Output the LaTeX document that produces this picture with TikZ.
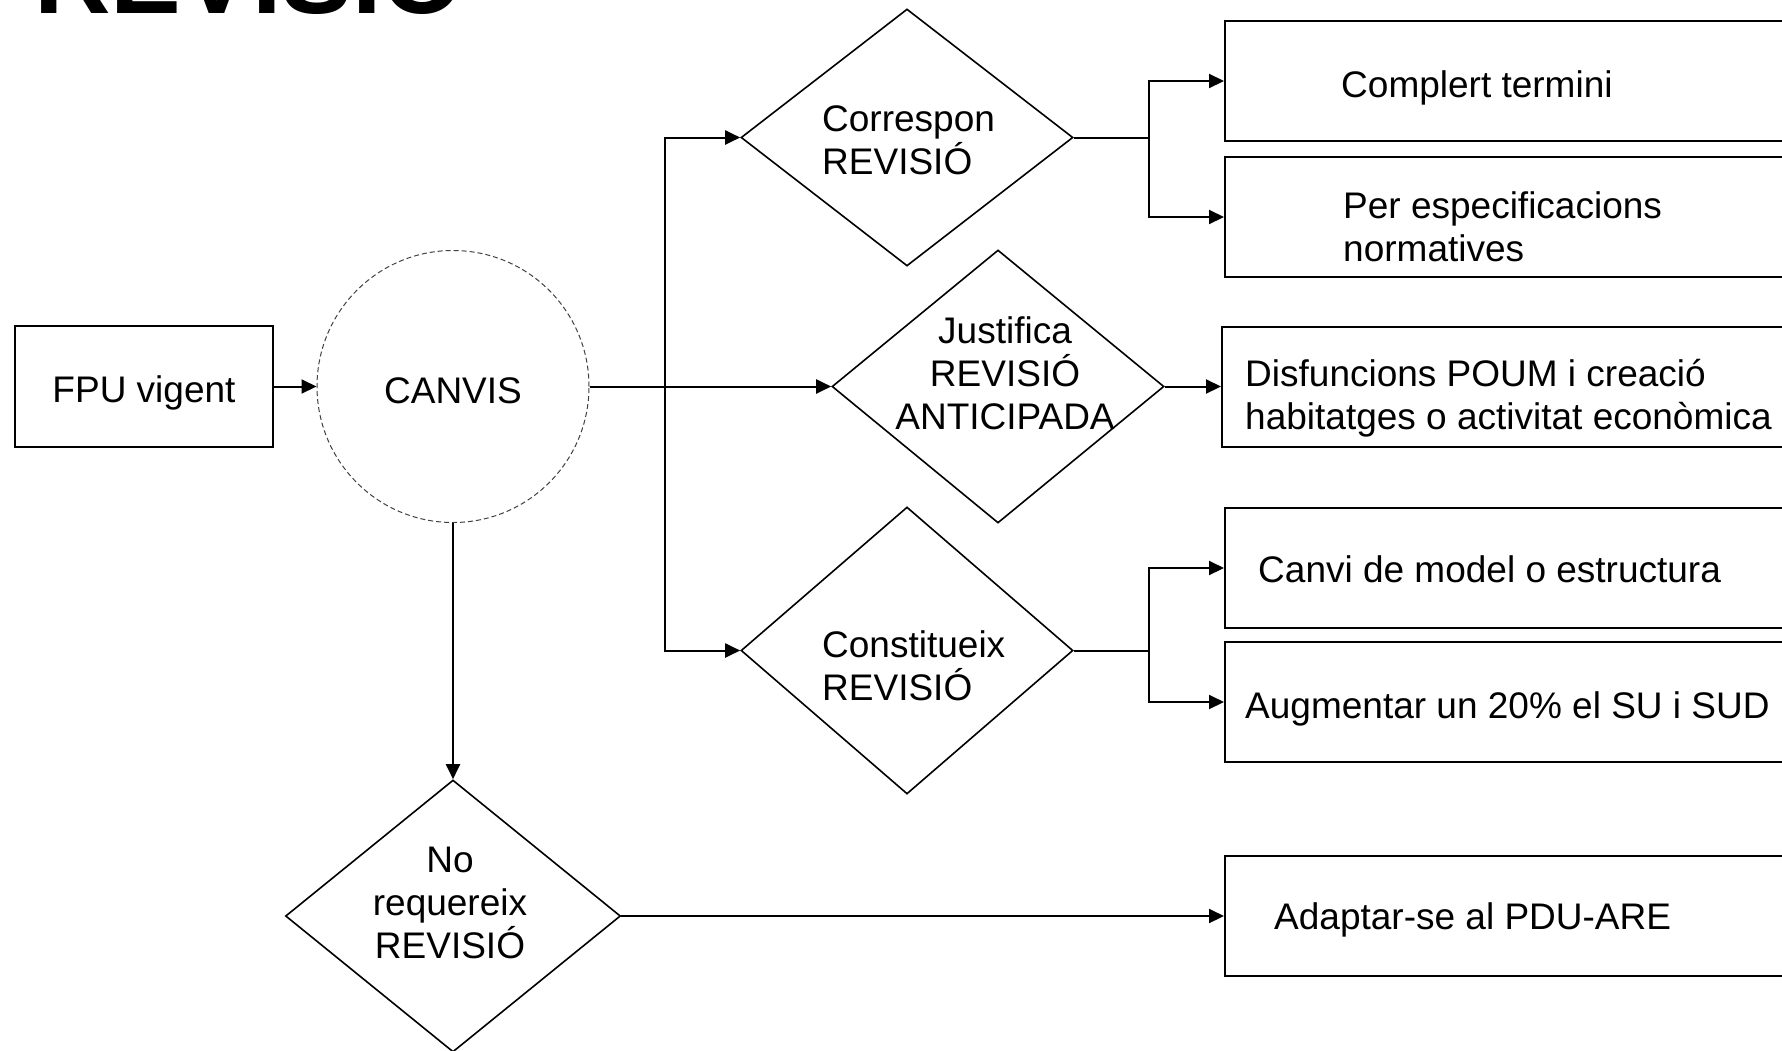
\documentclass[tikz,border=0pt]{standalone}
\usepackage{fontspec}
\setmainfont{Liberation Sans}
\usetikzlibrary{shapes.geometric,arrows.meta}

\begin{document}
\begin{tikzpicture}[x=1pt,y=-1pt,font=\fontsize{37}{43}\selectfont,
  rbox/.style={draw,line width=2pt,rectangle,anchor=west,minimum width=600,minimum height=120,inner sep=0pt},
  dmnd/.style n args={2}{draw,line width=1.6pt,diamond,minimum width=#1,minimum height=#2,inner sep=0pt},
  dlbl/.style={inner sep=0pt},
  blbl/.style={inner sep=0pt,anchor=base west,align=left},
  conn/.style={line width=2pt},
  arrw/.style={conn,-{Triangle[length=15pt,width=14pt]}}]
\useasboundingbox (0,0) rectangle (1782,1050);
\node[font=\fontsize{106}{114}\selectfont\bfseries,anchor=base west,inner sep=0pt] (ttl) at (34,13) {REVISIÓ};
\node[draw,line width=2pt,rectangle,minimum width=258,minimum height=121,text height=31pt,text depth=0pt] (fpu) at (144,386.5) {FPU vigent};
\node[draw=black!75,line width=1pt,dash pattern=on 5pt off 3pt,circle,minimum size=272,inner sep=0pt,text height=34pt,text depth=0pt] (canvis) at (453,386.5) {CANVIS};
\coordinate (split) at (665,386.5);
% rombes
\node[dmnd={332}{257}] (corr) at (907,137.5) {};
\node[dlbl,align=left,anchor=west] (corrt) at (822,140) {Correspon\\REVISIÓ};
\node[dmnd={332}{273}] (just) at (998,386.5) {};
\node[dlbl,align=center] (justt) at (1005,373) {Justifica\\REVISIÓ\\ANTICIPADA};
\node[dmnd={332}{287}] (cons) at (907,650.5) {};
\node[dlbl,align=left,anchor=west] (const) at (822,666) {Constitueix\\REVISIÓ};
\node[dmnd={335}{272}] (nore) at (453,916) {};
\node[dlbl,align=center] (noret) at (450,903) {No\\requereix\\REVISIÓ};
\coordinate (csplit) at (1149,137.5);
\coordinate (ksplit) at (1149,650.5);
% caixes
\node[rbox] (cmpl) at (1224,81) {};
\node[blbl] (cmplt) at (1341,97.5) {Complert termini};
\node[rbox] (perr) at (1224,217) {};
\node[blbl] (perrt) at (1343,261) {Per especificacions\\normatives};
\node[rbox] (disf) at (1221,386.5) {};
\node[blbl] (disft) at (1245,429.5) {Disfuncions POUM i creació\\habitatges o activitat econòmica};
\node[rbox] (canv) at (1224,568) {};
\node[blbl] (canvt) at (1258,582.5) {Canvi de model o estructura};
\node[rbox] (augm) at (1224,702) {};
\node[blbl] (augmt) at (1245,718) {Augmentar un 20\% el SU i SUD};
\node[rbox] (adap) at (1224,916) {};
\node[blbl] (adapt) at (1274,929.5) {Adaptar-se al PDU-ARE};
\draw[arrw] (fpu) -- (canvis);
\draw[arrw] (canvis) -- (just);
\draw[arrw] (split) |- (corr);
\draw[arrw] (split) |- (cons);
\draw[arrw] (canvis) -- (nore);
\draw[arrw] (nore) -- (adap);
\draw[arrw] (just) -- (disf);
\draw[conn] (corr) -- (csplit);
\draw[arrw] (csplit) |- (cmpl);
\draw[arrw] (csplit) |- (perr);
\draw[conn] (cons) -- (ksplit);
\draw[arrw] (ksplit) |- (canv);
\draw[arrw] (ksplit) |- (augm);
\end{tikzpicture}
\end{document}
